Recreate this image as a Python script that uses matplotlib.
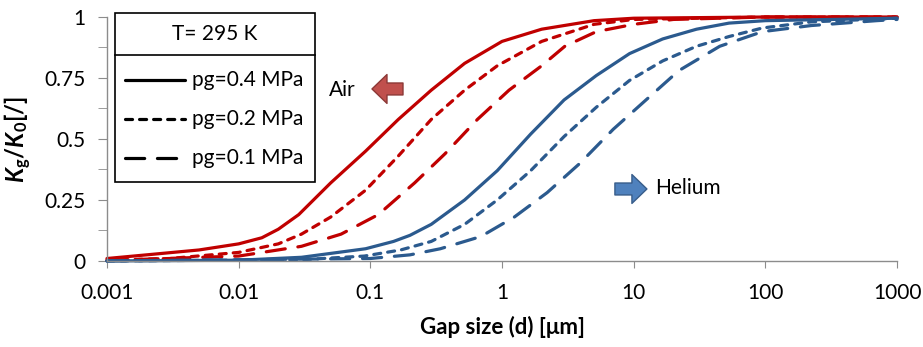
import numpy as np
import matplotlib.pyplot as plt
from matplotlib.lines import Line2D
from matplotlib.patches import Rectangle

plt.rcParams['font.family'] = ['Lato', 'DejaVu Sans']
plt.rcParams['mathtext.fontset'] = 'custom'
plt.rcParams['mathtext.rm'] = 'Lato'
plt.rcParams['mathtext.it'] = 'Lato:italic'
plt.rcParams['mathtext.bf'] = 'Lato:bold'
plt.rcParams['mathtext.bfit'] = 'Lato:bold:italic'

# values (gap size in um, Kg/K0)
air_04_d = [0.001, 0.002, 0.005, 0.01, 0.015, 0.02, 0.0286, 0.05, 0.092, 0.163, 0.29, 0.52, 1, 2, 5, 10, 100, 1000]
air_04_k = [0.01, 0.025, 0.045, 0.07, 0.095, 0.13, 0.19, 0.32, 0.45, 0.58, 0.70, 0.81, 0.90, 0.95, 0.985, 0.995, 1.0, 1.0]

air_02_d = [0.001, 0.003, 0.01, 0.02, 0.03, 0.05, 0.092, 0.163, 0.29, 0.52, 0.92, 2, 5, 10, 100, 1000]
air_02_k = [0.003, 0.01, 0.035, 0.07, 0.11, 0.18, 0.29, 0.43, 0.58, 0.70, 0.80, 0.90, 0.97, 0.99, 1.0, 1.0]

air_01_d = [0.001, 0.01, 0.03, 0.06, 0.115, 0.217, 0.37, 0.65, 1.13, 2, 3, 5.2, 10, 20, 100, 1000]
air_01_k = [0.002, 0.02, 0.06, 0.11, 0.19, 0.32, 0.44, 0.58, 0.70, 0.80, 0.88, 0.94, 0.97, 0.99, 1.0, 1.0]

he_04_d = [0.001, 0.01, 0.03, 0.092, 0.15, 0.2, 0.29, 0.52, 0.92, 1.65, 2.96, 5.2, 9.3, 16.6, 30, 53, 100, 1000]
he_04_k = [0.0, 0.003, 0.015, 0.05, 0.08, 0.105, 0.15, 0.25, 0.37, 0.52, 0.66, 0.76, 0.85, 0.91, 0.95, 0.975, 0.985, 0.995]

he_02_d = [0.001, 0.03, 0.09, 0.17, 0.29, 0.52, 0.92, 1.65, 2.96, 5.2, 9.3, 16.6, 30, 53, 95, 223, 1000]
he_02_k = [0.0, 0.005, 0.02, 0.045, 0.08, 0.15, 0.25, 0.37, 0.51, 0.63, 0.74, 0.82, 0.88, 0.92, 0.955, 0.98, 0.995]

he_01_d = [0.001, 0.1, 0.2, 0.34, 0.69, 1.24, 2.2, 3.9, 7, 12.4, 22, 45, 95, 223, 700, 1000]
he_01_k = [0.0, 0.01, 0.025, 0.05, 0.10, 0.18, 0.28, 0.40, 0.54, 0.66, 0.78, 0.88, 0.94, 0.965, 0.985, 0.99]

labels = ['pg=0.4 MPa', 'pg=0.2 MPa', 'pg=0.1 MPa']
legend_title = 'T= 295 K'
red = '#C00000'
blue = '#2B5A8E'
lw = 2.3
styles = [dict(linestyle='-'),
          dict(linestyle=(0, (2.2, 2.2))),
          dict(linestyle=(0, (6.0, 4.0)))]

fig = plt.figure(figsize=(9.23, 3.47), dpi=100)
ax = fig.add_axes([0.1159, 0.248, 0.856, 0.703])

air = [(air_04_d, air_04_k), (air_02_d, air_02_k), (air_01_d, air_01_k)]
he = [(he_04_d, he_04_k), (he_02_d, he_02_k), (he_01_d, he_01_k)]
for (d, k), st in zip(air, styles):
    ax.plot(d, k, color=red, lw=lw, dash_capstyle='round', solid_capstyle='round', clip_on=False, **st)
for (d, k), st in zip(he, styles):
    ax.plot(d, k, color=blue, lw=lw, dash_capstyle='round', solid_capstyle='round', clip_on=False, **st)

ax.set_xscale('log')
ax.set_xlim(0.001, 1000)
ax.set_ylim(0, 1)
ax.set_xticks([0.001, 0.01, 0.1, 1, 10, 100, 1000])
ax.set_xticklabels(['0.001', '0.01', '0.1', '1', '10', '100', '1000'])
ax.xaxis.set_minor_locator(plt.NullLocator())
ax.set_yticks([0, 0.25, 0.5, 0.75, 1])
ax.set_yticklabels(['0', '0.25', '0.5', '0.75', '1'])
ax.set_yticks(np.arange(0.125, 1, 0.25), minor=True)

for s in ['top', 'right']:
    ax.spines[s].set_visible(False)
for s in ['left', 'bottom']:
    ax.spines[s].set_color('#8C8C8C')
    ax.spines[s].set_linewidth(1.0)
ax.tick_params(axis='both', which='both', color='#8C8C8C', direction='out', labelsize=15)
ax.tick_params(axis='y', which='both', length=6.5, pad=9)
ax.tick_params(axis='x', which='major', length=5, pad=11)

ax.set_xlabel('Gap size (d) [\u03bcm]', fontsize=16, fontweight='bold', labelpad=9)
ax.set_ylabel(r'$\mathbfit{K}_{\mathbf{g}}\mathbf{/}\mathbfit{K}_{\mathbf{0}}\mathbf{[/]}$', fontsize=17, labelpad=8)

# annotations with arrows
ax.text(0.0486, 0.70, 'Air', fontsize=15, va='center', ha='left')
ax.annotate('', xy=(0.1029, 0.705), xytext=(0.177, 0.705),
            arrowprops=dict(arrowstyle='simple,head_length=0.54,head_width=1.04,tail_width=0.43',
                            fc='#C0504D', ec='#8C3836', lw=1, mutation_scale=20,
                            shrinkA=0, shrinkB=0))
ax.text(14.5, 0.30, 'Helium', fontsize=15, va='center', ha='left')
ax.annotate('', xy=(12.6, 0.295), xytext=(7.2, 0.295),
            arrowprops=dict(arrowstyle='simple,head_length=0.54,head_width=1.04,tail_width=0.43',
                            fc='#4F81BD', ec='#385D8A', lw=1, mutation_scale=20,
                            shrinkA=0, shrinkB=0))

# legend box with a title cell
box_x0, box_x1 = 0.0101, 0.2633
box_y0, box_y1 = 0.3238, 1.0164
sep_y = 0.8443
row_y = [0.7418, 0.582, 0.4221]
ax.add_patch(Rectangle((box_x0, box_y0), box_x1 - box_x0, box_y1 - box_y0, transform=ax.transAxes,
                       fc='white', ec='black', lw=1.2, clip_on=False, zorder=5))
ax.add_line(Line2D([box_x0, box_x1], [sep_y, sep_y], transform=ax.transAxes,
                   color='black', lw=1.2, clip_on=False, zorder=6))
ax.text((box_x0 + box_x1) / 2, (sep_y + box_y1) / 2, legend_title, transform=ax.transAxes,
        fontsize=15, ha='center', va='center', zorder=6)
for y, lab, st in zip(row_y, labels, styles):
    ax.add_line(Line2D([0.0228, 0.0987], [y, y], transform=ax.transAxes, color='black', lw=lw,
                       dash_capstyle='round', solid_capstyle='round', clip_on=False, zorder=6, **st))
    ax.text(0.1076, y, lab, transform=ax.transAxes, fontsize=15, ha='left', va='center', zorder=6)

fig.savefig('out.png', dpi=100)
